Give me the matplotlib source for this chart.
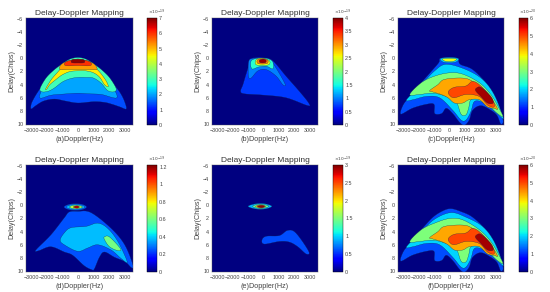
import numpy as np
import matplotlib
matplotlib.use("Agg")
import matplotlib.pyplot as plt
from matplotlib.cm import ScalarMappable
from matplotlib.colors import Normalize

plt.rcParams['font.family'] = ['Liberation Sans', 'DejaVu Sans']

# contour outlines: (doppler Hz, delay chips)
a_levels = [1.4, 2.0, 3.0, 4.6, 5.2, 6.0, 6.9]
a_shapes = [
    [(-3000, 7.7), (-3000, 7.0), (-2850, 6.2), (-2600, 5.2), (-2250, 4.0), (-1850, 2.8), (-1350, 1.6), (-800, 0.5), (-300, -0.05), (0, -0.2), (300, -0.05), (800, 0.5), (1350, 1.6), (1850, 2.8), (2300, 4.0), (2700, 5.2), (2980, 6.5), (3100, 7.7), (2700, 7.4), (2200, 7.0), (1700, 6.7), (1000, 6.6), (0, 6.8), (-800, 6.5), (-1500, 6.2), (-2200, 6.5), (-2700, 7.2)],
    [(-2450, 6.0), (-2150, 4.0), (-1650, 2.4), (-1100, 1.1), (-550, 0.25), (0, -0.1), (550, 0.25), (1100, 1.1), (1650, 2.4), (2150, 4.0), (2500, 6.0), (1500, 5.5), (700, 5.4), (0, 5.3), (-700, 5.4), (-1700, 5.6)],
    [(-2430, 4.6), (-2050, 3.0), (-1550, 1.8), (-1050, 0.9), (-500, 0.1), (0, -0.1), (500, 0.1), (1050, 0.9), (1550, 1.8), (2050, 3.0), (2450, 4.6), (2300, 5.1), (1900, 4.9), (1500, 3.8), (1000, 3.0), (500, 2.9), (0, 2.9), (-500, 3.1), (-1000, 3.6), (-1500, 4.5), (-1900, 5.0), (-2300, 5.1)],
    [(-2060, 4.6), (-1700, 3.2), (-1300, 2.1), (-1000, 1.3), (-600, 0.5), (0, 0.1), (600, 0.5), (1000, 1.2), (1400, 2.1), (1800, 3.4), (1950, 4.3), (1700, 4.0), (1400, 2.9), (1000, 2.2), (500, 1.9), (0, 1.9), (-500, 2.0), (-1000, 2.5), (-1400, 3.2), (-1800, 4.0), (-2000, 4.7)],
    [(-1140, 1.7), (-1100, 1.0), (-700, 0.45), (0, 0.1), (700, 0.45), (1100, 1.0), (1200, 1.7), (600, 1.7), (0, 1.7), (-600, 1.7)],
    [(-800, 1.1), (-750, 0.5), (0, 0.15), (750, 0.5), (800, 1.1), (0, 1.1)],
    [(-400, 0.65), (-380, 0.25), (0, 0.15), (380, 0.25), (400, 0.65), (0, 0.7)],
]

b_levels = [0.72, 1.0, 1.6, 2.5, 3.1, 3.9]
b_shapes = [
    [(-800, 0.2), (-1100, 2.2), (-1330, 4), (-1480, 5), (-1230, 5.4), (0, 5.6), (1460, 6.0), (2860, 7.2), (2930, 6.8), (2320, 5), (1460, 2.7), (600, 0.35), (0, -0.1), (-500, -0.1)],
    [(-950, 0.4), (-970, 2.7), (-800, 3), (-360, 1.9), (170, 1.7), (820, 2.7), (1250, 4), (1400, 3.9), (800, 1.4), (400, 0.2), (0, 0), (-600, 0)],
    [(-800, 0.4), (-750, 1.6), (-300, 1.3), (200, 1.2), (600, 1.6), (600, 0.5), (200, 0), (-400, 0)],
    [(-500, 0.3), (-450, 1.0), (300, 1.0), (400, 0.4), (0, 0), (-300, 0)],
    [(-380, 0.2), (-350, 0.8), (220, 0.8), (280, 0.3), (0, 0.05)],
    [(-250, 0.25), (-220, 0.65), (120, 0.65), (170, 0.3), (0, 0.1)],
]

c_levels = [1.2, 2.0, 3.0, 4.4, 5.0, 5.8, 2.0, 3.8]
c_shapes = [
    [(-3150, 8.5), (-3000, 7.1), (-2570, 5.8), (-1820, 3.7), (-1070, 1.7), (-680, 0.6), (-600, 0), (0, -0.15), (535, 0), (700, 0.9), (1500, 1.7), (2460, 4), (3100, 6.6), (3470, 9.4), (3320, 10), (3080, 8.7), (2680, 7.9), (2030, 7.2), (1500, 7.9), (1280, 9.4), (960, 10.2), (640, 9.7), (210, 8.4), (-210, 7.6), (-500, 8.4), (-960, 8.4), (-1000, 7.0), (-1500, 7.0), (-2400, 7.6)],
    [(-2780, 6.3), (-1820, 4), (-960, 1.9), (-210, 0.9), (1070, 1.7), (2140, 3.2), (2890, 5.5), (3430, 8.7), (3450, 9.2), (3080, 8.4), (2570, 7.4), (2050, 6.6), (1600, 6.6), (1390, 8.1), (1070, 9.4), (750, 9.4), (210, 7.9), (-640, 6), (-1500, 5.8), (-2360, 6.3)],
    [(-2570, 5.5), (-1820, 3.7), (-960, 2.7), (0, 2.2), (860, 2.4), (1930, 3.7), (2680, 5.5), (3210, 7.6), (3470, 8.9), (3050, 8.3), (2560, 7.2), (1930, 6.2), (1390, 6.3), (1240, 7.6), (1070, 8.6), (750, 8.5), (430, 6.6), (-210, 5.8), (-1070, 5.3), (-1930, 5.5)],
    [(-1280, 4.9), (-750, 4), (-320, 3.2), (860, 3), (1500, 3.5), (2360, 5), (3100, 7.6), (2890, 7.6), (2460, 7.4), (1930, 6.3), (1280, 6.3), (860, 6.8), (320, 6.8), (-100, 6), (-535, 5.5), (-1100, 5.1)],
    [(-60, 5), (320, 4.4), (1070, 4.2), (1500, 3.5), (2030, 4.2), (2780, 6.3), (2890, 7.4), (2460, 7.1), (1930, 5.8), (1070, 5.5), (320, 6), (0, 5.6)],
    [(1710, 4.6), (2030, 4.4), (2680, 5.8), (2830, 6.8), (2460, 6.8), (2030, 5.8), (1710, 5.0)],
    [(-600, 0.1), (-300, -0.1), (300, -0.1), (600, 0.1), (350, 0.6), (-350, 0.6)],
    [(-450, 0.1), (0, 0), (450, 0.1), (250, 0.45), (-250, 0.45)],
]

d_levels = [0.25, 0.38, 0.6, 0.25, 0.38, 0.7, 1.15]
d_shapes = [
    [(-2700, 6.8), (-1740, 4.5), (-880, 1.9), (-560, 1), (0, 0.9), (840, 1.1), (2130, 3.5), (3000, 6), (3530, 9.1), (3430, 9.5), (3030, 8.6), (2340, 7.9), (1700, 7.1), (1380, 7.9), (1050, 9.7), (880, 9.8), (400, 9.2), (-340, 7.6), (-880, 7.1), (-1740, 6.3), (-2500, 6.9)],
    [(-1140, 5.3), (-880, 4.2), (-450, 3.4), (516, 3.2), (1270, 2.7), (1910, 3.5), (2560, 5.5), (3160, 8.6), (2770, 8.1), (2130, 6.8), (1270, 6), (620, 6.5), (-20, 7), (-880, 6)],
    [(1700, 4.8), (2020, 4.8), (2730, 6.6), (2560, 6.9), (2020, 6.3), (1700, 5.2)],
    [(-900, 0.25), (-500, -0.2), (200, -0.2), (560, 0.25), (200, 0.7), (-500, 0.7)],
    [(-750, 0.25), (-400, -0.1), (100, -0.1), (450, 0.25), (100, 0.6), (-400, 0.6)],
    [(-550, 0.25), (-300, 0.0), (0, 0.0), (300, 0.25), (0, 0.5), (-300, 0.5)],
    [(-300, 0.25), (-150, 0.1), (0, 0.1), (100, 0.25), (0, 0.4), (-150, 0.4)],
]

e_levels = [0.6, 0.9, 1.4, 2.0, 2.6, 2.95]
e_shapes = [
    [(-100, 5.3), (170, 4.7), (1030, 4.6), (1570, 3.8), (2100, 4.2), (2930, 7), (2760, 7.4), (2220, 6.3), (1680, 5.6), (1030, 5.5), (60, 5.9)],
    [(-1000, 0.15), (-500, -0.25), (100, -0.25), (550, 0.15), (100, 0.55), (-500, 0.55)],
    [(-700, 0.15), (-400, -0.15), (0, -0.15), (350, 0.15), (0, 0.45), (-400, 0.45)],
    [(-520, 0.15), (-300, -0.05), (-50, -0.05), (150, 0.15), (-50, 0.4), (-300, 0.4)],
    [(-430, 0.15), (-250, 0.0), (-50, 0.0), (100, 0.15), (-50, 0.35), (-250, 0.35)],
    [(-350, 0.15), (-200, 0.05), (-50, 0.05), (50, 0.15), (-50, 0.3), (-200, 0.3)],
]

f_levels = [1.2, 2.0, 3.0, 4.4, 5.0, 5.8]
f_shapes = [
    [(-3150, 8.5), (-3000, 7.1), (-2570, 5.8), (-1820, 3.7), (-1070, 1.8), (-400, 0.8), (100, 0.5), (700, 0.9), (1500, 1.8), (2460, 4), (3100, 6.6), (3470, 9.4), (3320, 10), (3080, 8.7), (2680, 7.9), (2030, 7.2), (1500, 7.9), (1280, 9.4), (960, 10.2), (640, 9.7), (210, 8.4), (-210, 7.6), (-500, 8.4), (-960, 8.4), (-1000, 7.0), (-1500, 7.0), (-2400, 7.6)],
    [(-2780, 6.3), (-1820, 4), (-960, 2.1), (100, 1.1), (1070, 1.8), (2140, 3.2), (2890, 5.5), (3430, 8.7), (3450, 9.2), (3080, 8.4), (2570, 7.4), (2050, 6.6), (1600, 6.6), (1390, 8.1), (1070, 9.4), (750, 9.4), (210, 7.9), (-640, 6), (-1500, 5.8), (-2360, 6.3)],
    [(-2570, 5.5), (-1820, 3.7), (-960, 2.7), (0, 2.0), (860, 2.2), (1930, 3.7), (2680, 5.5), (3210, 7.6), (3470, 8.9), (3050, 8.3), (2560, 7.2), (1930, 6.2), (1390, 6.3), (1240, 7.6), (1070, 8.6), (750, 8.5), (430, 6.6), (-210, 5.8), (-1070, 5.3), (-1930, 5.5)],
    [(-1280, 4.9), (-750, 4), (-320, 3.2), (860, 3), (1500, 3.5), (2360, 5), (3100, 7.6), (2890, 7.6), (2460, 7.4), (1930, 6.3), (1280, 6.3), (860, 6.8), (320, 6.8), (-100, 6), (-535, 5.5), (-1100, 5.1)],
    [(-60, 5), (320, 4.4), (1070, 4.2), (1500, 3.5), (2030, 4.2), (2780, 6.3), (2890, 7.4), (2460, 7.1), (1930, 5.8), (1070, 5.5), (320, 6), (0, 5.6)],
    [(1710, 4.6), (2030, 4.4), (2680, 5.8), (2830, 6.8), (2460, 6.8), (2030, 5.8), (1710, 5.0)],
]

x_labels = ['(a)Doppler(Hz)', '(b)Doppler(Hz)', '(c)Doppler(Hz)',
            '(d)Doppler(Hz)', '(e)Doppler(Hz)', '(f)Doppler(Hz)']
panel_levels = [a_levels, b_levels, c_levels, d_levels, e_levels, f_levels]
panel_shapes = [a_shapes, b_shapes, c_shapes, d_shapes, e_shapes, f_shapes]
color_max = [7, 4, 6, 1.22, 3, 6]
color_ticks = [
    [0, 1, 2, 3, 4, 5, 6, 7],
    [0, 0.5, 1, 1.5, 2, 2.5, 3, 3.5, 4],
    [0, 1, 2, 3, 4, 5, 6],
    [0, 0.2, 0.4, 0.6, 0.8, 1, 1.2],
    [0, 0.5, 1, 1.5, 2, 2.5, 3],
    [0, 1, 2, 3, 4, 5, 6],
]
color_exp = ['-19', '-19', '-20', '-19', '-19', '-20']
doppler_ticks = [-3000, -2000, -1000, 0, 1000, 2000, 3000]
delay_ticks = [-6, -4, -2, 0, 2, 4, 6, 8, 10]

W, H = 550, 292
col_x = [(26, 133, 147, 157), (212, 318, 333, 343), (398, 504, 519, 528)]
row_y = [(18, 125), (165, 272)]
text_col = '#444444'


def smooth(pts, n=6):
    # closed catmull-rom through the read points, so outlines look like contours
    p = np.array(pts, dtype=float)
    t = np.linspace(0, 1, n, endpoint=False)[:, None]
    out = []
    for k in range(len(p)):
        p0, p1, p2, p3 = p[k - 1], p[k], p[(k + 1) % len(p)], p[(k + 2) % len(p)]
        out.append(0.5 * (2 * p1 + (p2 - p0) * t + (2 * p0 - 5 * p1 + 4 * p2 - p3) * t ** 2
                          + (3 * p1 - p0 - 3 * p2 + p3) * t ** 3))
    return np.vstack(out)


fig = plt.figure(figsize=(W / 100, H / 100), dpi=100)

for i in range(6):
    x0, x1, c0, c1 = col_x[i % 3]
    y0, y1 = row_y[i // 3]
    ax = fig.add_axes([x0 / W, 1 - y1 / H, (x1 - x0) / W, (y1 - y0) / H])
    norm = Normalize(0, color_max[i])
    ax.set_facecolor(plt.cm.jet(0.0))
    for lev, shape in zip(panel_levels[i], panel_shapes[i]):
        p = smooth(shape)
        ax.fill(p[:, 0], p[:, 1], facecolor=plt.cm.jet(norm(lev)),
                edgecolor='#10204a', linewidth=0.2)
    ax.set_xlim(-3330, 3530)
    ax.set_ylim(10.15, -6.15)
    ax.set_xticks(doppler_ticks)
    ax.set_yticks(delay_ticks)
    ax.tick_params(labelsize=3.9, length=0, pad=2, colors=text_col)
    for s in ax.spines.values():
        s.set_linewidth(0.3)
        s.set_color('#555555')
    ax.set_title('Delay-Doppler Mapping', fontsize=6.0, color='#333333', pad=2.5)
    ax.set_xlabel(x_labels[i], fontsize=5.2, color=text_col, labelpad=2)
    ax.set_ylabel('Delay(Chips)', fontsize=5.2, color=text_col, labelpad=1.5)

    cax = fig.add_axes([c0 / W, 1 - y1 / H, (c1 - c0) / W, (y1 - y0) / H])
    cb = fig.colorbar(ScalarMappable(norm=norm, cmap='jet'), cax=cax)
    cb.set_ticks(color_ticks[i])
    cb.set_ticklabels([f'{t:g}' for t in color_ticks[i]])
    cb.ax.tick_params(labelsize=3.9, length=0, pad=1.5, colors=text_col)
    cb.outline.set_linewidth(0.3)
    cax.text(1.0, 1.01, r'$\times 10^{' + color_exp[i] + '}$', transform=cax.transAxes,
             fontsize=3.2, color=text_col, ha='center', va='bottom')

fig.savefig('out.png', dpi=100)
